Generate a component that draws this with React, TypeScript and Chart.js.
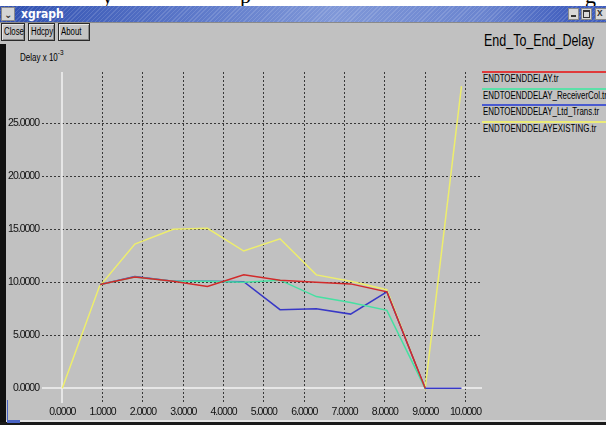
import React, { useEffect, useRef } from "react";
import { Chart, registerables } from "chart.js";

Chart.register(...registerables);

// ---- data ----
const seriesNames = [
  "ENDTOENDDELAY.tr",
  "ENDTOENDDELAY_ReceiverCol.tr",
  "ENDTOENDDELAY_Ltd_Trans.tr",
  "ENDTOENDDELAYEXISTING.tr",
];
const seriesColors = ["#d22a2a", "#46e0a2", "#3838c6", "#eeee6c"];
const legendColors = ["#e03a3a", "#5ce0a8", "#4a5ad0", "#ecec78"];

const redX = [0.94, 1.8, 2.75, 3.6, 4.5, 5.4, 6.3, 7.15, 8.05, 9.0];
const redY = [9.8, 10.5, 10.1, 9.6, 10.7, 10.2, 10.0, 9.85, 9.1, 0];
const greenX = [0.94, 1.8, 2.75, 3.6, 4.5, 5.4, 6.3, 7.15, 8.05, 9.0];
const greenY = [9.8, 10.5, 10.1, 10.1, 10.0, 10.2, 8.65, 8.1, 7.35, 0];
const blueX = [0.94, 1.8, 2.75, 3.6, 4.5, 5.4, 6.3, 7.15, 8.05, 9.0, 9.9];
const blueY = [9.8, 10.55, 10.1, 10.1, 10.05, 7.42, 7.5, 7.0, 9.1, 0, 0];
const yellowX = [0, 0.92, 1.8, 2.75, 3.6, 4.5, 5.4, 6.3, 7.15, 8.05, 9.0, 9.9];
const yellowY = [0, 9.6, 13.6, 15.0, 15.1, 12.95, 14.1, 10.7, 10.1, 9.3, 0, 28.5];

const xTicks = [0, 1, 2, 3, 4, 5, 6, 7, 8, 9, 10];
const yTicks = [0, 5, 10, 15, 20, 25];

const seriesX = [redX, greenX, blueX, yellowX];
const seriesY = [redY, greenY, blueY, yellowY];

const SANS = "'Liberation Sans', Arial, sans-serif";

const zeroLinePlugin = {
  id: "zeroLines",
  beforeDatasetsDraw(chart: any) {
    const { ctx, chartArea, scales } = chart;
    const x0 = Math.round(scales.x.getPixelForValue(0));
    const y0 = Math.round(scales.y.getPixelForValue(0));
    ctx.save();
    ctx.strokeStyle = "#f2f2f2";
    ctx.lineWidth = 1.5;
    ctx.beginPath();
    ctx.moveTo(chartArea.left, y0);
    ctx.lineTo(chartArea.right, y0);
    ctx.moveTo(x0, chartArea.top);
    ctx.lineTo(x0, chartArea.bottom);
    ctx.stroke();
    ctx.restore();
  },
};

const narrowTextPlugin = {
  id: "narrowText",
  beforeUpdate(chart: any) {
    chart.ctx.letterSpacing = "-1px";
  },
  beforeDraw(chart: any) {
    chart.ctx.letterSpacing = "-1px";
  },
};

function ChartCanvas() {
  const ref = useRef<HTMLCanvasElement | null>(null);
  useEffect(() => {
    if (!ref.current) return;
    const gridColor = (c: any) =>
      c.tick && c.tick.value === 0 ? "rgba(0,0,0,0)" : "#383838";
    const chart = new Chart(ref.current, {
      type: "line",
      data: {
        datasets: seriesNames.map((name, i) => ({
          label: name,
          data: seriesX[i].map((x, j) => ({ x, y: seriesY[i][j] })),
          borderColor: seriesColors[i],
          backgroundColor: seriesColors[i],
          borderWidth: 1.5,
          pointRadius: 0,
          tension: 0,
          fill: false,
        })),
      },
      options: {
        animation: false,
        responsive: false,
        devicePixelRatio: 1,
        layout: { padding: { top: 72, right: 124, bottom: 0, left: 0 } },
        plugins: { legend: { display: false }, tooltip: { enabled: false } },
        scales: {
          x: {
            type: "linear",
            min: -0.503,
            max: 10.409,
            afterBuildTicks: (s: any) => {
              s.ticks = xTicks.map((v) => ({ value: v }));
            },
            afterFit: (s: any) => {
              s.height = 22;
            },
            ticks: {
              autoSkip: false,
              maxRotation: 0,
              padding: 3,
              color: "#111",
              font: { family: SANS, size: 10.5 },
              callback: (v: any) => Number(v).toFixed(4),
            },
            grid: { color: gridColor, drawTicks: false, lineWidth: 1 },
            border: { display: false, dash: [2, 2] },
          },
          y: {
            type: "linear",
            min: -1.387,
            max: 29.84,
            afterBuildTicks: (s: any) => {
              s.ticks = yTicks.map((v) => ({ value: v }));
            },
            afterFit: (s: any) => {
              s.width = 42;
            },
            ticks: {
              padding: 3,
              color: "#111",
              font: { family: SANS, size: 10.5 },
              callback: (v: any) => Number(v).toFixed(4),
            },
            grid: { color: gridColor, drawTicks: false, lineWidth: 1 },
            border: { display: false, dash: [2, 2] },
          },
        },
      },
      plugins: [narrowTextPlugin, zeroLinePlugin],
    } as any);
    return () => chart.destroy();
  }, []);
  return (
    <canvas
      ref={ref}
      width={606}
      height={425}
      style={{ position: "absolute", left: 0, top: 0, width: 606, height: 425 }}
    />
  );
}

const narrow = (scale: number): React.CSSProperties => ({
  display: "inline-block",
  transform: `scaleX(${scale})`,
  transformOrigin: "left center",
  whiteSpace: "nowrap",
});

const btn: React.CSSProperties = {
  position: "absolute",
  top: 23,
  height: 18,
  boxSizing: "border-box",
  border: "1px solid #2a2a2a",
  boxShadow: "inset 1px 1px 0 #e6e6e6, inset -1px -1px 0 #8a8a8a",
  background: "#c4c4c4",
  font: `10px ${SANS}`,
  color: "#000",
  overflow: "hidden",
};

const iconBox: React.CSSProperties = {
  position: "absolute",
  top: 8,
  width: 11,
  height: 12,
  background: "#d8d8d8",
  boxSizing: "border-box",
  border: "1px solid #8a8a8a",
};

function Button({ left, width, label }: { left: number; width: number; label: string }) {
  return (
    <div style={{ ...btn, left, width }}>
      <span style={{ ...narrow(0.78), position: "absolute", left: 2, top: 2 }}>{label}</span>
    </div>
  );
}

export default function App() {
  return (
    <div
      style={{
        position: "fixed",
        left: 0,
        top: 0,
        width: 606,
        height: 425,
        overflow: "hidden",
        background: "#c1c1c1",
        fontFamily: SANS,
      }}
    >
      {/* cut-off caption above the window */}
      <div style={{ position: "absolute", left: 0, top: 0, width: 606, height: 6, background: "#fff", overflow: "hidden" }}>
        <span style={{ position: "absolute", left: 102, top: -17, font: "22px 'Liberation Serif', serif", color: "#000" }}>y</span>
        <span style={{ position: "absolute", left: 240, top: -17, font: "22px 'Liberation Serif', serif", color: "#000" }}>p</span>
        <span style={{ position: "absolute", left: 585, top: -17, font: "22px 'Liberation Serif', serif", color: "#000" }}>g</span>
      </div>
      {/* title bar */}
      <div
        style={{
          position: "absolute",
          left: 0,
          top: 6,
          width: 606,
          height: 16,
          background:
            "repeating-linear-gradient(135deg, rgba(255,255,255,0.13) 0px, rgba(255,255,255,0.13) 1px, rgba(0,0,0,0) 1px, rgba(0,0,0,0) 3px), linear-gradient(to right, #2f4fb0 0%, #5a76c8 30%, #8098d8 55%, #6a84cf 80%, #3f5dbd 95%)",
          borderBottom: "1px solid #8a8a8a",
        }}
      />
      <div style={{ ...iconBox, left: 1, top: 7, width: 14, height: 14, background: "#d4d4d4" }}>
        <div style={{ position: "absolute", left: 2, top: 1, font: "bold 10px 'DejaVu Sans', sans-serif", color: "#333" }}>⌄</div>
      </div>
      <div style={{ position: "absolute", left: 21, top: 7, font: "bold 12px 'DejaVu Sans Condensed', sans-serif", color: "#fff", lineHeight: "14px" }}>
        xgraph
      </div>
      <div style={{ ...iconBox, left: 568 }}>
        <div style={{ position: "absolute", left: 2, top: 6, width: 5, height: 2, background: "#333" }} />
      </div>
      <div style={{ ...iconBox, left: 581 }}>
        <div style={{ position: "absolute", left: 1, top: 1, width: 7, height: 8, boxSizing: "border-box", border: "1px solid #333", borderTopWidth: 2 }} />
      </div>
      <div style={{ ...iconBox, left: 595, width: 12 }}>
        <div style={{ position: "absolute", left: 1, top: -2, font: "bold 10px sans-serif", color: "#333" }}>x</div>
      </div>

      {/* buttons */}
      <Button left={1} width={24} label="Close" />
      <Button left={28} width={27} label="Hdcpy" />
      <Button left={58} width={32} label="About" />

      {/* window edges */}
      <div style={{ position: "absolute", left: 0, top: 44, width: 6, height: 381, background: "#111" }} />
      <div style={{ position: "absolute", left: 7, top: 400, width: 1, height: 20, background: "#4a64c4" }} />
      <div style={{ position: "absolute", left: 6, top: 420, width: 600, height: 2, background: "#e4e4e4" }} />
      <div style={{ position: "absolute", left: 0, top: 422, width: 606, height: 3, background: "#1a1a1a" }} />
      <div style={{ position: "absolute", left: 7, top: 420, width: 13, height: 3, background: "#4a64c4" }} />

      {/* title and axis unit */}
      <div style={{ position: "absolute", left: 484, top: 32, font: `16px ${SANS}`, color: "#000" }}>
        <span style={narrow(0.78)}>End_To_End_Delay</span>
      </div>
      <div style={{ position: "absolute", left: 20, top: 52, font: `10px ${SANS}`, color: "#000" }}>
        <span style={narrow(0.8)}>
          Delay x 10<sup style={{ fontSize: 8, verticalAlign: "top", position: "relative", top: -4 }}>-3</sup>
        </span>
      </div>

      {/* legend */}
      {seriesNames.map((name, i) => (
        <div key={name}>
          <div style={{ position: "absolute", left: 482, top: 71 + i * 16.6, width: 124, height: 2, background: legendColors[i] }} />
          <div style={{ position: "absolute", left: 483, top: 73 + i * 16.6, font: `10px ${SANS}`, color: "#000", lineHeight: "11px" }}>
            <span style={narrow(0.79)}>{name}</span>
          </div>
        </div>
      ))}

      <ChartCanvas />
    </div>
  );
}
